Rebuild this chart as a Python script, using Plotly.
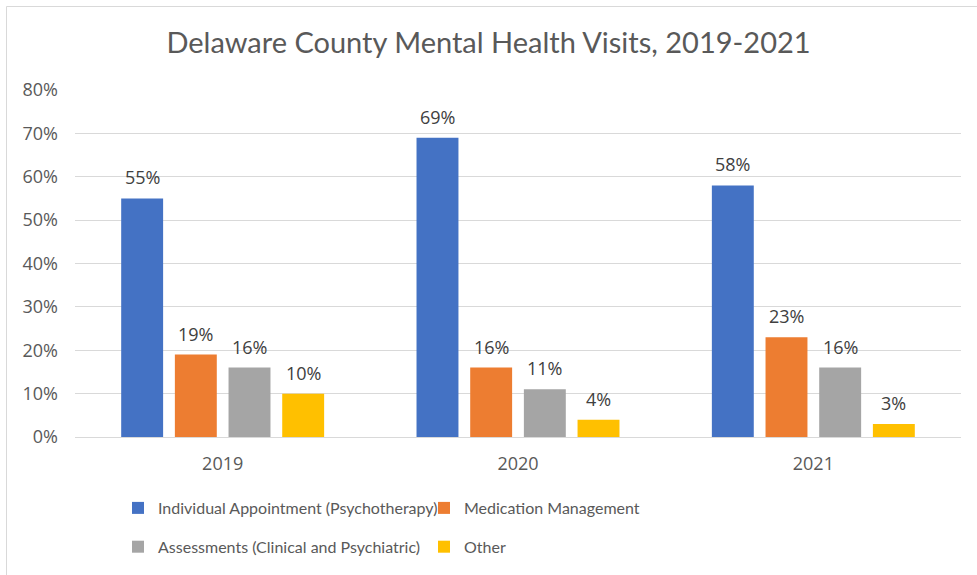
import plotly.graph_objects as go

# Share of mental health visits by type, per year
years = ["2019", "2020", "2021"]
series_names = [
    "Individual Appointment (Psychotherapy)",
    "Medication Management",
    "Assessments (Clinical and Psychiatric)",
    "Other",
]
individual = [0.55, 0.69, 0.58]
medication = [0.19, 0.16, 0.23]
assessments = [0.16, 0.11, 0.16]
other = [0.10, 0.04, 0.03]
y_ticks = [0, 0.1, 0.2, 0.3, 0.4, 0.5, 0.6, 0.7, 0.8]

series_values = [individual, medication, assessments, other]
colors = ["#4472C4", "#ED7D31", "#A5A5A5", "#FFC000"]
# blue + gray in the left legend column, orange + yellow in the right one
legend_ids = ["legend", "legend2", "legend", "legend2"]

NUM_FONT = "Open Sans"
TXT_FONT = "Lato"
TEXT_GRAY = "#595959"
GRID = "#D9D9D9"

W, H = 977, 575
M_L, M_R, M_T, M_B = 75, 16, 90, 138
BARGAP = 0.273
BARGROUPGAP = 0.219

fig = go.Figure()
for k, (name, vals, col, lg) in enumerate(zip(series_names, series_values, colors, legend_ids)):
    fig.add_trace(go.Bar(
        x=years, y=vals, name=name,
        marker=dict(color=col, line=dict(width=0)),
        legend=lg, legendgroup=name,
        hoverinfo="skip",
    ))

# value labels above each bar, placed at the grouped-bar slot centres
n = len(series_values)
slot = (1 - BARGAP) / n
annotations = []
for k, vals in enumerate(series_values):
    for i, v in enumerate(vals):
        annotations.append(dict(
            x=i + (k - (n - 1) / 2) * slot, y=v, xref="x", yref="y",
            text=f"{round(v * 100)}%", showarrow=False,
            yanchor="middle", yshift=21,
            font=dict(family=NUM_FONT, size=18, color="#404040"),
        ))

plot_w = W - M_L - M_R
plot_h = H - M_T - M_B

legend_style = dict(
    orientation="v", xanchor="left", yanchor="top",
    y=1 - (491 - M_T) / plot_h,
    font=dict(family=TXT_FONT, size=16, color=TEXT_GRAY),
    tracegroupgap=15, bgcolor="rgba(0,0,0,0)",
)

fig.update_layout(
    width=W, height=H,
    margin=dict(l=M_L, r=M_R, t=M_T, b=M_B, autoexpand=False),
    paper_bgcolor="white", plot_bgcolor="white",
    barmode="group", bargap=BARGAP, bargroupgap=BARGROUPGAP,
    title=dict(
        text="Delaware County Mental Health Visits, 2019-2021",
        x=0.5, xanchor="center", y=1 - 43 / H, yanchor="middle",
        font=dict(family=TXT_FONT, size=29, color=TEXT_GRAY),
    ),
    font=dict(family=NUM_FONT, color=TEXT_GRAY),
    xaxis=dict(
        type="category", showgrid=False, showline=False, ticks="",
        tickfont=dict(family=NUM_FONT, size=18, color=TEXT_GRAY),
        ticklabelstandoff=14, fixedrange=True,
    ),
    yaxis=dict(
        range=[0, 0.8], tickvals=y_ticks, tickformat=".0%",
        showgrid=True, gridcolor=GRID, gridwidth=1,
        zeroline=True, zerolinecolor=GRID, zerolinewidth=1,
        showline=False, ticks="",
        tickfont=dict(family=NUM_FONT, size=18, color=TEXT_GRAY),
        ticklabelstandoff=16, fixedrange=True,
    ),
    legend=dict(legend_style, x=(118 - M_L) / plot_w),
    legend2=dict(legend_style, x=(424 - M_L) / plot_w),
    annotations=annotations,
    shapes=[dict(
        type="rect", xref="paper", yref="paper",
        x0=(6.5 - M_L) / plot_w, x1=1.1,
        y0=-0.6, y1=1 + (M_T - 6.5) / plot_h,
        line=dict(color=GRID, width=1), fillcolor="rgba(0,0,0,0)", layer="below",
    )],
)

fig.write_html("out.html", config={"displayModeBar": False})
